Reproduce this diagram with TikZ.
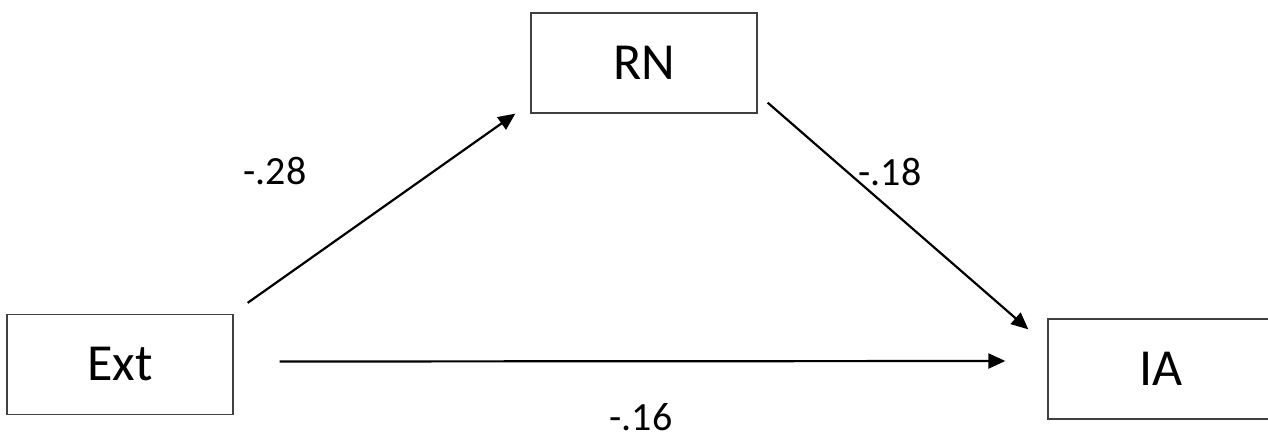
\documentclass[tikz,border=0pt]{standalone}
\usepackage{fontspec}
\setmainfont{Carlito}
\usepackage{tikz}
\usetikzlibrary{arrows.meta}
\usetikzlibrary{positioning}
\tikzset{box/.style={draw=black!75,line width=1.3pt,minimum width=226pt,minimum height=100pt,inner sep=0pt,font=\fontsize{52}{60}\selectfont},
lbl/.style={inner sep=0pt,font=\fontsize{40}{48}\selectfont},
arr/.style={-{Triangle[length=17pt,width=15pt]},line width=2.2pt}}

\begin{document}
\begin{tikzpicture}[x=1pt,y=-1pt]
\useasboundingbox (0,0) rectangle (1268,436);
\node[box] (ext) at (120,364.5) {Ext};
\node[box] (rn) at (644,63) {RN};
\node[box] (ia) at (1161,369) {IA};
\draw[arr] ([xshift=14pt,yshift=11pt]ext.north east) to ([xshift=-15pt]rn.south west);
\draw[arr] ([xshift=10pt,yshift=11pt]rn.south east) to ([xshift=-19pt,yshift=-11pt]ia.north west);
\draw[arr] ([xshift=46pt,yshift=3pt]ext.east) to ([xshift=-42pt,yshift=3.5pt]ext.east -| ia.west);
\node[lbl] (l1) at (275,171) {-.28};
\node[lbl] (l2) at (890,172) {-.18};
\node[lbl] (l3) at (641,417) {-.16};
\end{tikzpicture}
\end{document}
